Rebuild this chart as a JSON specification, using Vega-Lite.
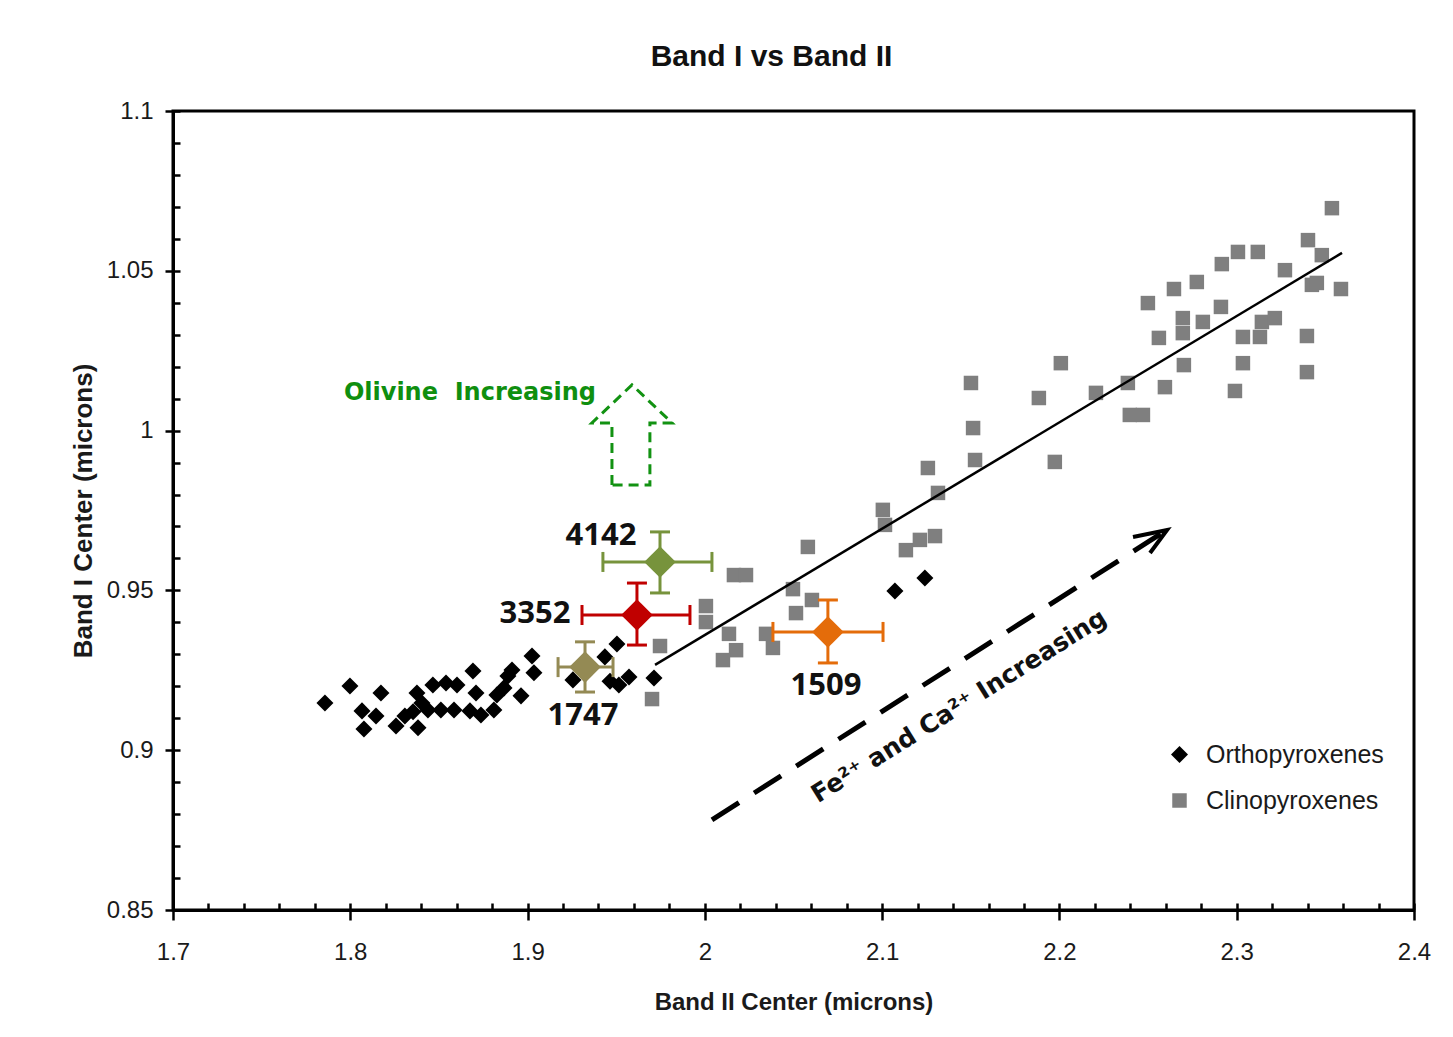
{
  "$schema": "https://vega.github.io/schema/vega-lite/v6.json",
  "width": 1241,
  "height": 799,
  "autosize": {"type": "none"},
  "padding": {"left": 173, "top": 111, "right": 39, "bottom": 127},
  "background": "white",
  "title": {"text": "Band I vs Band II", "font": "Liberation Sans", "fontSize": 30, "fontWeight": "bold", "color": "#111111", "offset": 27, "dx": -22},
  "config": {
    "view": {"stroke": "#000000", "strokeWidth": 3},
    "axis": {"grid": false, "labelFlush": false, "domainColor": "#000000", "domainWidth": 3, "tickColor": "#000000", "tickWidth": 2.5, "labelFont": "Liberation Sans", "labelFontSize": 24, "labelColor": "#1a1a1a", "titleFont": "Liberation Sans", "titleFontWeight": "bold", "titleColor": "#1a1a1a"}
  },
  "datasets": {
    "points": [
      {"x": 1.7857, "y": 0.9148, "type": "Orthopyroxenes"},
      {"x": 1.7998, "y": 0.9201, "type": "Orthopyroxenes"},
      {"x": 1.8173, "y": 0.9179, "type": "Orthopyroxenes"},
      {"x": 1.8066, "y": 0.9123, "type": "Orthopyroxenes"},
      {"x": 1.8145, "y": 0.9107, "type": "Orthopyroxenes"},
      {"x": 1.8077, "y": 0.9066, "type": "Orthopyroxenes"},
      {"x": 1.8258, "y": 0.9076, "type": "Orthopyroxenes"},
      {"x": 1.8376, "y": 0.9179, "type": "Orthopyroxenes"},
      {"x": 1.8354, "y": 0.9120, "type": "Orthopyroxenes"},
      {"x": 1.8382, "y": 0.9070, "type": "Orthopyroxenes"},
      {"x": 1.8308, "y": 0.9107, "type": "Orthopyroxenes"},
      {"x": 1.8404, "y": 0.9148, "type": "Orthopyroxenes"},
      {"x": 1.8466, "y": 0.9204, "type": "Orthopyroxenes"},
      {"x": 1.8540, "y": 0.9210, "type": "Orthopyroxenes"},
      {"x": 1.8602, "y": 0.9204, "type": "Orthopyroxenes"},
      {"x": 1.8438, "y": 0.9126, "type": "Orthopyroxenes"},
      {"x": 1.8511, "y": 0.9126, "type": "Orthopyroxenes"},
      {"x": 1.8585, "y": 0.9126, "type": "Orthopyroxenes"},
      {"x": 1.8675, "y": 0.9123, "type": "Orthopyroxenes"},
      {"x": 1.8692, "y": 0.9248, "type": "Orthopyroxenes"},
      {"x": 1.8709, "y": 0.9179, "type": "Orthopyroxenes"},
      {"x": 1.8737, "y": 0.9110, "type": "Orthopyroxenes"},
      {"x": 1.8810, "y": 0.9126, "type": "Orthopyroxenes"},
      {"x": 1.8827, "y": 0.9173, "type": "Orthopyroxenes"},
      {"x": 1.8867, "y": 0.9195, "type": "Orthopyroxenes"},
      {"x": 1.8889, "y": 0.9232, "type": "Orthopyroxenes"},
      {"x": 1.8912, "y": 0.9251, "type": "Orthopyroxenes"},
      {"x": 1.8963, "y": 0.9170, "type": "Orthopyroxenes"},
      {"x": 1.9025, "y": 0.9295, "type": "Orthopyroxenes"},
      {"x": 1.9036, "y": 0.9242, "type": "Orthopyroxenes"},
      {"x": 1.9256, "y": 0.9220, "type": "Orthopyroxenes"},
      {"x": 1.9436, "y": 0.9292, "type": "Orthopyroxenes"},
      {"x": 1.9504, "y": 0.9332, "type": "Orthopyroxenes"},
      {"x": 1.9465, "y": 0.9216, "type": "Orthopyroxenes"},
      {"x": 1.9515, "y": 0.9204, "type": "Orthopyroxenes"},
      {"x": 1.9572, "y": 0.9229, "type": "Orthopyroxenes"},
      {"x": 1.9713, "y": 0.9226, "type": "Orthopyroxenes"},
      {"x": 2.1072, "y": 0.9498, "type": "Orthopyroxenes"},
      {"x": 2.1241, "y": 0.9539, "type": "Orthopyroxenes"},
      {"x": 1.9702, "y": 0.9160, "type": "Clinopyroxenes"},
      {"x": 1.9747, "y": 0.9326, "type": "Clinopyroxenes"},
      {"x": 2.0006, "y": 0.9451, "type": "Clinopyroxenes"},
      {"x": 2.0006, "y": 0.9401, "type": "Clinopyroxenes"},
      {"x": 2.0164, "y": 0.9548, "type": "Clinopyroxenes"},
      {"x": 2.0232, "y": 0.9548, "type": "Clinopyroxenes"},
      {"x": 2.0136, "y": 0.9364, "type": "Clinopyroxenes"},
      {"x": 2.0176, "y": 0.9313, "type": "Clinopyroxenes"},
      {"x": 2.0102, "y": 0.9282, "type": "Clinopyroxenes"},
      {"x": 2.0345, "y": 0.9364, "type": "Clinopyroxenes"},
      {"x": 2.0384, "y": 0.9320, "type": "Clinopyroxenes"},
      {"x": 2.0497, "y": 0.9504, "type": "Clinopyroxenes"},
      {"x": 2.0604, "y": 0.9470, "type": "Clinopyroxenes"},
      {"x": 2.0514, "y": 0.9429, "type": "Clinopyroxenes"},
      {"x": 2.0581, "y": 0.9636, "type": "Clinopyroxenes"},
      {"x": 2.1004, "y": 0.9752, "type": "Clinopyroxenes"},
      {"x": 2.1016, "y": 0.9705, "type": "Clinopyroxenes"},
      {"x": 2.1258, "y": 0.9883, "type": "Clinopyroxenes"},
      {"x": 2.1315, "y": 0.9805, "type": "Clinopyroxenes"},
      {"x": 2.1134, "y": 0.9626, "type": "Clinopyroxenes"},
      {"x": 2.1213, "y": 0.9658, "type": "Clinopyroxenes"},
      {"x": 2.1298, "y": 0.9670, "type": "Clinopyroxenes"},
      {"x": 2.1501, "y": 1.0149, "type": "Clinopyroxenes"},
      {"x": 2.1513, "y": 1.0008, "type": "Clinopyroxenes"},
      {"x": 2.1524, "y": 0.9908, "type": "Clinopyroxenes"},
      {"x": 2.1884, "y": 1.0102, "type": "Clinopyroxenes"},
      {"x": 2.1974, "y": 0.9902, "type": "Clinopyroxenes"},
      {"x": 2.2008, "y": 1.0211, "type": "Clinopyroxenes"},
      {"x": 2.2206, "y": 1.0118, "type": "Clinopyroxenes"},
      {"x": 2.2386, "y": 1.0149, "type": "Clinopyroxenes"},
      {"x": 2.2397, "y": 1.0049, "type": "Clinopyroxenes"},
      {"x": 2.2471, "y": 1.0049, "type": "Clinopyroxenes"},
      {"x": 2.2499, "y": 1.0399, "type": "Clinopyroxenes"},
      {"x": 2.2561, "y": 1.0290, "type": "Clinopyroxenes"},
      {"x": 2.2595, "y": 1.0136, "type": "Clinopyroxenes"},
      {"x": 2.2646, "y": 1.0443, "type": "Clinopyroxenes"},
      {"x": 2.2696, "y": 1.0352, "type": "Clinopyroxenes"},
      {"x": 2.2696, "y": 1.0305, "type": "Clinopyroxenes"},
      {"x": 2.2702, "y": 1.0205, "type": "Clinopyroxenes"},
      {"x": 2.2775, "y": 1.0465, "type": "Clinopyroxenes"},
      {"x": 2.2809, "y": 1.0340, "type": "Clinopyroxenes"},
      {"x": 2.2911, "y": 1.0387, "type": "Clinopyroxenes"},
      {"x": 2.2916, "y": 1.0521, "type": "Clinopyroxenes"},
      {"x": 2.3007, "y": 1.0559, "type": "Clinopyroxenes"},
      {"x": 2.3119, "y": 1.0559, "type": "Clinopyroxenes"},
      {"x": 2.3035, "y": 1.0293, "type": "Clinopyroxenes"},
      {"x": 2.3035, "y": 1.0211, "type": "Clinopyroxenes"},
      {"x": 2.2990, "y": 1.0124, "type": "Clinopyroxenes"},
      {"x": 2.3142, "y": 1.0340, "type": "Clinopyroxenes"},
      {"x": 2.3215, "y": 1.0352, "type": "Clinopyroxenes"},
      {"x": 2.3131, "y": 1.0293, "type": "Clinopyroxenes"},
      {"x": 2.3272, "y": 1.0502, "type": "Clinopyroxenes"},
      {"x": 2.3402, "y": 1.0596, "type": "Clinopyroxenes"},
      {"x": 2.3480, "y": 1.0549, "type": "Clinopyroxenes"},
      {"x": 2.3424, "y": 1.0456, "type": "Clinopyroxenes"},
      {"x": 2.3452, "y": 1.0462, "type": "Clinopyroxenes"},
      {"x": 2.3588, "y": 1.0443, "type": "Clinopyroxenes"},
      {"x": 2.3396, "y": 1.0296, "type": "Clinopyroxenes"},
      {"x": 2.3396, "y": 1.0183, "type": "Clinopyroxenes"},
      {"x": 2.3537, "y": 1.0696, "type": "Clinopyroxenes"}
    ],
    "fit": [
      {"x": 1.9719, "y": 0.9267},
      {"x": 2.3594, "y": 1.0556}
    ],
    "samples": [
      {"id": "4142", "x": 1.9747, "y": 0.9589, "xlo": 1.9425, "xhi": 2.0040, "ylo": 0.9492, "yhi": 0.9683},
      {"id": "3352", "x": 1.9617, "y": 0.9423, "xlo": 1.9307, "xhi": 1.9916, "ylo": 0.9329, "yhi": 0.9523},
      {"id": "1747", "x": 1.9324, "y": 0.9260, "xlo": 1.9172, "xhi": 1.9482, "ylo": 0.9182, "yhi": 0.9339},
      {"id": "1509", "x": 2.0694, "y": 0.9370, "xlo": 2.0384, "xhi": 2.1005, "ylo": 0.9273, "yhi": 0.9470}
    ],
    "labels": [
      {"label": "4142", "x": 1.9414, "y": 0.9670},
      {"label": "3352", "x": 1.9042, "y": 0.9426},
      {"label": "1747", "x": 1.9313, "y": 0.9107},
      {"label": "1509", "x": 2.0683, "y": 0.9201}
    ],
    "olivineText": [
      {"label": "Olivine\u00a0 Increasing", "x": 1.8675, "y": 1.0118}
    ],
    "olivineArrow": [
      {"i": 0, "x": 1.9476, "y": 0.9830},
      {"i": 1, "x": 1.9476, "y": 1.0024},
      {"i": 2, "x": 1.9363, "y": 1.0024},
      {"i": 3, "x": 1.9589, "y": 1.0143},
      {"i": 4, "x": 1.9815, "y": 1.0024},
      {"i": 5, "x": 1.9690, "y": 1.0024},
      {"i": 6, "x": 1.9690, "y": 0.9830},
      {"i": 7, "x": 1.9476, "y": 0.9830}
    ],
    "feArrow": [
      {"x": 2.0040, "y": 0.8782, "x2": 2.2580, "y2": 0.9680}
    ],
    "feHead": [
      {"i": 0, "x": 2.2415, "y": 0.9667},
      {"i": 1, "x": 2.2607, "y": 0.9689},
      {"i": 2, "x": 2.2511, "y": 0.9617}
    ],
    "feText": [
      {"label": "Fe²⁺ and Ca²⁺ Increasing", "x": 2.1433, "y": 0.9138}
    ]
  },
  "encoding": {
    "x": {"field": "x", "type": "quantitative", "scale": {"domain": [1.7, 2.4], "nice": false, "zero": false}, "axis": null},
    "y": {"field": "y", "type": "quantitative", "scale": {"domain": [0.85, 1.1], "nice": false, "zero": false}, "axis": null}
  },
  "layer": [
    {
      "data": {"name": "points"},
      "mark": {"type": "point", "filled": true, "opacity": 1, "strokeWidth": 0},
      "encoding": {
        "x": {"field": "x", "type": "quantitative", "scale": {"domain": [1.7, 2.4], "nice": false, "zero": false},
          "axis": {"orient": "bottom", "values": [1.7, 1.8, 1.9, 2, 2.1, 2.2, 2.3, 2.4], "format": "~g", "tickSize": 10, "labelPadding": 20, "title": "Band II Center (microns)", "titleFontSize": 24, "titlePadding": 26}},
        "y": {"field": "y", "type": "quantitative", "scale": {"domain": [0.85, 1.1], "nice": false, "zero": false},
          "axis": {"orient": "left", "values": [0.85, 0.9, 0.95, 1, 1.05, 1.1], "format": "~g", "tickSize": 8, "labelPadding": 12, "title": "Band I Center (microns)", "titleFontSize": 26, "titlePadding": 10}},
        "size": {"field": "type", "type": "nominal", "scale": {"domain": ["Orthopyroxenes", "Clinopyroxenes"], "range": [290, 210]}, "legend": null},
        "color": {"field": "type", "type": "nominal",
          "scale": {"domain": ["Orthopyroxenes", "Clinopyroxenes"], "range": ["#000000", "#7f7f7f"]},
          "legend": {"title": null, "orient": "none", "legendX": 994, "legendY": 631, "labelFont": "Liberation Sans", "labelFontSize": 25, "labelColor": "#1a1a1a", "labelLimit": 400, "symbolSize": 220, "symbolStrokeWidth": 0, "rowPadding": 20, "labelOffset": 14, "padding": 0}},
        "shape": {"field": "type", "type": "nominal",
          "scale": {"domain": ["Orthopyroxenes", "Clinopyroxenes"], "range": ["diamond", "square"]},
          "legend": {"title": null, "orient": "none", "legendX": 994, "legendY": 631, "labelFont": "Liberation Sans", "labelFontSize": 25, "labelColor": "#1a1a1a", "labelLimit": 400, "symbolSize": 220, "symbolStrokeWidth": 0, "rowPadding": 20, "labelOffset": 14, "padding": 0}}
      }
    },
    {
      "data": {"name": "fit"},
      "mark": {"type": "line", "color": "#000000", "strokeWidth": 2.5},
      "encoding": {
        "x": {"field": "x", "type": "quantitative", "scale": {"domain": [1.7, 2.4], "nice": false, "zero": false},
          "axis": {"orient": "bottom", "values": [1.7, 1.72, 1.74, 1.76, 1.78, 1.8, 1.82, 1.84, 1.86, 1.88, 1.9, 1.92, 1.94, 1.96, 1.98, 2, 2.02, 2.04, 2.06, 2.08, 2.1, 2.12, 2.14, 2.16, 2.18, 2.2, 2.22, 2.24, 2.26, 2.28, 2.3, 2.32, 2.34, 2.36, 2.38, 2.4], "tickSize": -7, "labels": false, "domain": false, "title": null}},
        "y": {"field": "y", "type": "quantitative", "scale": {"domain": [0.85, 1.1], "nice": false, "zero": false},
          "axis": {"orient": "left", "values": [0.85, 0.86, 0.87, 0.88, 0.89, 0.9, 0.91, 0.92, 0.93, 0.94, 0.95, 0.96, 0.97, 0.98, 0.99, 1, 1.01, 1.02, 1.03, 1.04, 1.05, 1.06, 1.07, 1.08, 1.09, 1.1], "tickSize": -7, "labels": false, "domain": false, "title": null}}
      }
    },
    {
      "data": {"name": "samples"},
      "mark": {"type": "rule", "strokeWidth": 3},
      "encoding": {
        "x": {"field": "xlo", "type": "quantitative", "scale": {"domain": [1.7, 2.4], "nice": false, "zero": false}, "axis": null},
        "x2": {"field": "xhi"},
        "stroke": {"field": "id", "type": "nominal", "scale": {"domain": ["4142", "3352", "1747", "1509"], "range": ["#77933c", "#c00000", "#948a54", "#e46c0a"]}, "legend": null}
      }
    },
    {
      "data": {"name": "samples"},
      "mark": {"type": "rule", "strokeWidth": 3},
      "encoding": {
        "y": {"field": "ylo", "type": "quantitative", "scale": {"domain": [0.85, 1.1], "nice": false, "zero": false}, "axis": null},
        "y2": {"field": "yhi"},
        "stroke": {"field": "id", "type": "nominal", "scale": {"domain": ["4142", "3352", "1747", "1509"], "range": ["#77933c", "#c00000", "#948a54", "#e46c0a"]}, "legend": null}
      }
    },
    {
      "data": {"name": "samples"},
      "mark": {"type": "tick", "orient": "vertical", "size": 20, "thickness": 3, "opacity": 1},
      "encoding": {
        "x": {"field": "xlo", "type": "quantitative", "scale": {"domain": [1.7, 2.4], "nice": false, "zero": false}, "axis": null},
        "fill": {"field": "id", "type": "nominal", "scale": {"domain": ["4142", "3352", "1747", "1509"], "range": ["#77933c", "#c00000", "#948a54", "#e46c0a"]}, "legend": null}
      }
    },
    {
      "data": {"name": "samples"},
      "mark": {"type": "tick", "orient": "vertical", "size": 20, "thickness": 3, "opacity": 1},
      "encoding": {
        "x": {"field": "xhi", "type": "quantitative", "scale": {"domain": [1.7, 2.4], "nice": false, "zero": false}, "axis": null},
        "fill": {"field": "id", "type": "nominal", "scale": {"domain": ["4142", "3352", "1747", "1509"], "range": ["#77933c", "#c00000", "#948a54", "#e46c0a"]}, "legend": null}
      }
    },
    {
      "data": {"name": "samples"},
      "mark": {"type": "tick", "orient": "horizontal", "size": 20, "thickness": 3, "opacity": 1},
      "encoding": {
        "y": {"field": "ylo", "type": "quantitative", "scale": {"domain": [0.85, 1.1], "nice": false, "zero": false}, "axis": null},
        "fill": {"field": "id", "type": "nominal", "scale": {"domain": ["4142", "3352", "1747", "1509"], "range": ["#77933c", "#c00000", "#948a54", "#e46c0a"]}, "legend": null}
      }
    },
    {
      "data": {"name": "samples"},
      "mark": {"type": "tick", "orient": "horizontal", "size": 20, "thickness": 3, "opacity": 1},
      "encoding": {
        "y": {"field": "yhi", "type": "quantitative", "scale": {"domain": [0.85, 1.1], "nice": false, "zero": false}, "axis": null},
        "fill": {"field": "id", "type": "nominal", "scale": {"domain": ["4142", "3352", "1747", "1509"], "range": ["#77933c", "#c00000", "#948a54", "#e46c0a"]}, "legend": null}
      }
    },
    {
      "data": {"name": "samples"},
      "mark": {"type": "point", "shape": "diamond", "filled": true, "size": 1000, "opacity": 1, "strokeWidth": 0},
      "encoding": {
        "fill": {"field": "id", "type": "nominal", "scale": {"domain": ["4142", "3352", "1747", "1509"], "range": ["#77933c", "#c00000", "#948a54", "#e46c0a"]}, "legend": null}
      }
    },
    {
      "data": {"name": "labels"},
      "mark": {"type": "text", "font": "Open Sans", "fontWeight": "bold", "fontSize": 31, "color": "#111111", "align": "center", "baseline": "middle"},
      "encoding": {"text": {"field": "label"}}
    },
    {
      "data": {"name": "olivineText"},
      "mark": {"type": "text", "font": "DejaVu Sans", "fontWeight": "bold", "fontSize": 24, "color": "#0f8f0f", "align": "center", "baseline": "middle"},
      "encoding": {"text": {"field": "label"}}
    },
    {
      "data": {"name": "olivineArrow"},
      "mark": {"type": "line", "color": "#129212", "strokeWidth": 3, "strokeDash": [10, 6]},
      "encoding": {"order": {"field": "i", "type": "quantitative"}}
    },
    {
      "data": {"name": "feArrow"},
      "mark": {"type": "rule", "color": "#000000", "strokeWidth": 5, "strokeDash": [32, 18]},
      "encoding": {
        "x2": {"field": "x2"},
        "y2": {"field": "y2"}
      }
    },
    {
      "data": {"name": "feHead"},
      "mark": {"type": "line", "color": "#000000", "strokeWidth": 4},
      "encoding": {"order": {"field": "i", "type": "quantitative"}}
    },
    {
      "data": {"name": "feText"},
      "mark": {"type": "text", "font": "DejaVu Sans", "fontWeight": "bold", "fontSize": 25, "color": "#111111", "align": "center", "baseline": "middle", "angle": 328},
      "encoding": {"text": {"field": "label"}}
    }
  ],
  "resolve": {"axis": {"x": "independent", "y": "independent"}}
}
